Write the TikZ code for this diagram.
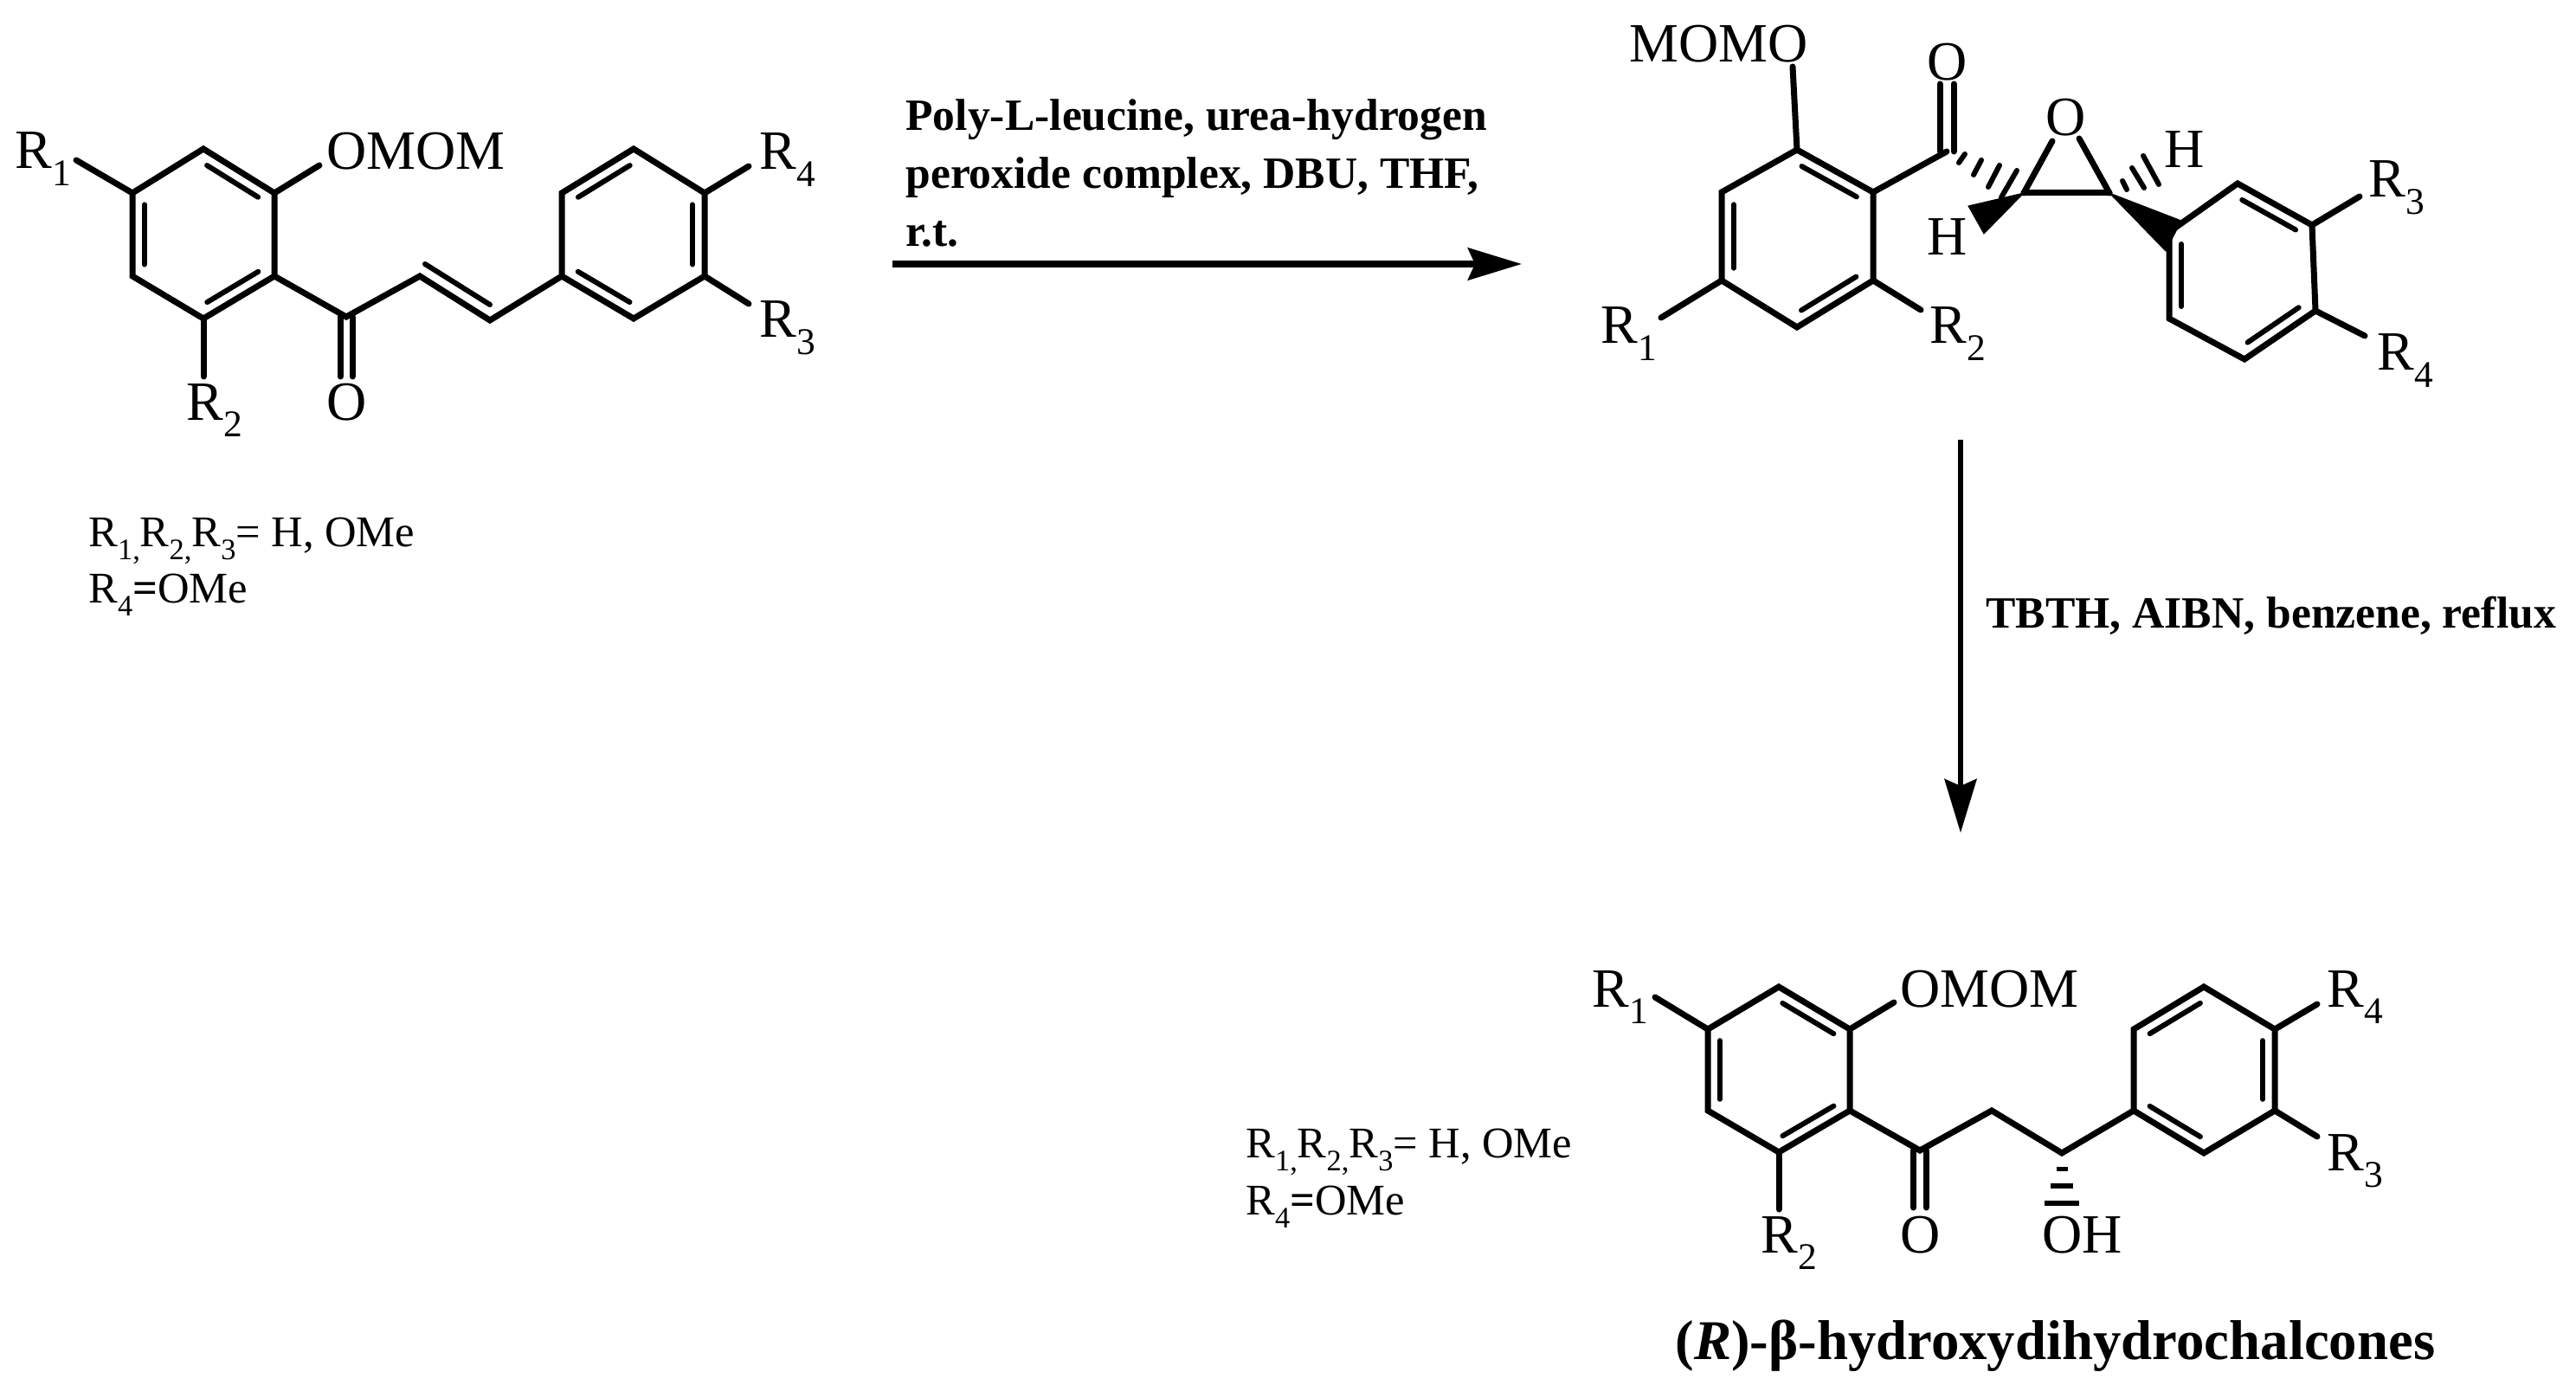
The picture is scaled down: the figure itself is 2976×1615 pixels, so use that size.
\documentclass[tikz,border=0pt]{standalone}
\usepackage{fontspec}
\setmainfont{Liberation Serif}
\usetikzlibrary{calc}
\usetikzlibrary{arrows.meta}

\tikzset{
  bond/.style={line width=3.5pt, line cap=round, line join=miter},
  innerb/.style={line width=3pt, line cap=round},
  hashb/.style={line width=3pt, line cap=round},
  wedgeb/.style={fill=black, draw=black, line width=.5pt, line join=miter},
  atomlab/.style={inner sep=0pt, anchor=base west, xshift=-1pt, font=\fontsize{32}{38}\selectfont},
  condlab/.style={inner sep=0pt, anchor=base west, xshift=-.5pt, font=\fontsize{25.3}{30}\selectfont},
  reagent/.style={inner sep=0pt, anchor=base west, font=\fontsize{25.8}{30}\selectfont\bfseries},
  rxnarrow/.style={-{Stealth[length=31pt, width=18.5pt, inset=4pt]}}
}
\newcommand{\subg}[1]{\raisebox{-.3em}{\scalebox{.68}{#1}}}
% second line of a double bond, on the right of a -> b
\newcommand{\innerbond}[2]{\draw[innerb] ($(#1)!.14!(#2)!7pt!-90:(#2)$) -- ($(#2)!.14!(#1)!7pt!90:(#1)$);}

\begin{document}
\begin{tikzpicture}[x=.5pt, y=-.5pt]
    \useasboundingbox (0,0) rectangle (2976,1615);

        % Chalcone: atoms
        \coordinate (a1) at (235,172);
        \coordinate (a2) at (317,223);
        \coordinate (a3) at (317,319);
        \coordinate (a4) at (235,368);
        \coordinate (a5) at (153,319);
        \coordinate (a6) at (153,223);
        \coordinate (aco) at (400,366);
        \coordinate (aox) at (400,435);
        \coordinate (aalk) at (485,319);
        \coordinate (abet) at (566,370);
        \coordinate (b1) at (649,319);
        \coordinate (b2) at (649,223);
        \coordinate (b3) at (732,172);
        \coordinate (b4) at (814,223);
        \coordinate (b5) at (814,319);
        \coordinate (b6) at (732,368);
        \coordinate (ar1) at (88,185);
        \coordinate (aom) at (369,191);
        \coordinate (ar2) at (235,435);
        \coordinate (ar4) at (865,192);
        \coordinate (ar3) at (865,351);
        \coordinate (ain1) at (491,305);
        \coordinate (ain2) at (566,352);
        % Chalcone: bonds
        \draw[bond] (a1) -- (a2) -- (a3) -- (a4) -- (a5) -- (a6) -- cycle;
        \draw[bond] (b1) -- (b2) -- (b3) -- (b4) -- (b5) -- (b6) -- cycle;
        \draw[bond] (a3) -- (aco) -- (aalk) -- (abet) -- (b1);
        \draw[bond] (a6) -- (ar1);
        \draw[bond] (a2) -- (aom);
        \draw[bond] (a4) -- (ar2);
        \draw[bond] (b4) -- (ar4);
        \draw[bond] (b5) -- (ar3);
        \draw[bond] ([xshift=-3.5pt]aco) -- ([xshift=-3.5pt]aox);
        \draw[bond] ([xshift=3.5pt]aco) -- ([xshift=3.5pt]aox);
        \draw[innerb] (ain1) -- (ain2);
        \innerbond{a1}{a2}
        \innerbond{a3}{a4}
        \innerbond{a5}{a6}
        \innerbond{b2}{b3}
        \innerbond{b4}{b5}
        \innerbond{b6}{b1}
        % Chalcone: labels
        \node[atomlab] (lr1) at (19,195) {R\subg{1}};
        \node[atomlab] (lom) at (379,196) {OMOM};
        \node[atomlab] (lr2) at (217,485) {R\subg{2}};
        \node[atomlab] (lox) at (379,486) {O};
        \node[atomlab] (lr4) at (879,196) {R\subg{4}};
        \node[atomlab] (lr3) at (879,390) {R\subg{3}};
        \node[condlab] (cnd1) at (103,631) {R\subg{1,}R\subg{2,}R\subg{3}= H, OMe};
        \node[condlab] (cnd2) at (103,696) {R\subg{4}\textbf{=}OMe};

        % First step
        \coordinate (s1a) at (1031,305);
        \coordinate (s1b) at (1758,305);
        \draw[rxnarrow, line width=3.7pt] (s1a) -- (s1b);
        \node[reagent] (rg1) at (1046,151) {Poly-L-leucine, urea-hydrogen};
        \node[reagent] (rg2) at (1046,218) {peroxide complex, DBU, THF,};
        \node[reagent] (rg3) at (1046,285) {r.t.};

        % Epoxide: atoms
        \coordinate (e1) at (2076,173);
        \coordinate (e2) at (2164,222);
        \coordinate (e3) at (2164,324);
        \coordinate (e4) at (2076,378);
        \coordinate (e5) at (1989,324);
        \coordinate (e6) at (1989,222);
        \coordinate (eco) at (2249,175);
        \coordinate (eox) at (2249,97);
        \coordinate (ec1) at (2338,223);
        \coordinate (ec2) at (2437,223);
        \coordinate (eo1) at (2371,163);
        \coordinate (eo2) at (2402,160);
        \coordinate (em) at (2071,77);
        \coordinate (er1) at (1919,367);
        \coordinate (er2) at (2219,358);
        \coordinate (f1) at (2506,268);
        \coordinate (f2) at (2585,212);
        \coordinate (f3) at (2671,260);
        \coordinate (f4) at (2675,359);
        \coordinate (f5) at (2593,415);
        \coordinate (f6) at (2506,368);
        \coordinate (er3) at (2726,227);
        \coordinate (er4) at (2732,388);
        % Epoxide: bonds
        \draw[bond] (e1) -- (e2) -- (e3) -- (e4) -- (e5) -- (e6) -- cycle;
        \draw[bond] (f1) -- (f2) -- (f3) -- (f4) -- (f5) -- (f6) -- cycle;
        \draw[bond] (e2) -- (eco);
        \draw[bond] ([xshift=-4pt]eco) -- ([xshift=-4pt]eox);
        \draw[bond] ([xshift=4pt]eco) -- ([xshift=4pt]eox);
        \draw[bond] (e1) -- (em);
        \draw[bond] (e5) -- (er1);
        \draw[bond] (e3) -- (er2);
        \draw[bond] (f3) -- (er3);
        \draw[bond] (f4) -- (er4);
        \draw[bond] (ec1) -- (ec2);
        \draw[bond] (ec1) -- (eo1);
        \draw[bond] (ec2) -- (eo2);
        \innerbond{e1}{e2}
        \innerbond{e3}{e4}
        \innerbond{e5}{e6}
        \innerbond{f2}{f3}
        \innerbond{f4}{f5}
        \innerbond{f6}{f1}
        % Epoxide: stereo marks
        \filldraw[wedgeb] (ec1) -- (2274,238) -- (2292,270) -- cycle;
        \filldraw[wedgeb] (ec2) -- (2520,255) -- (2502,290) -- cycle;
        \draw[hashb] (2263,188) -- (2270,178);
        \draw[hashb] (2280,202) -- (2289,185);
        \draw[hashb] (2297,216) -- (2310,191);
        \draw[hashb] (2312,228) -- (2330,197);
        \draw[hashb] (2452,209) -- (2457,219);
        \draw[hashb] (2463,194) -- (2477,217);
        \draw[hashb] (2476,180) -- (2494,213);
        % Epoxide: labels
        \node[atomlab] (lmo) at (1884,72) {MOMO};
        \node[atomlab] (lo1) at (2228,93) {O};
        \node[atomlab] (lo2) at (2365,157) {O};
        \node[atomlab] (lh1) at (2228,295) {H};
        \node[atomlab] (lh2) at (2502,194) {H};
        \node[atomlab] (le1) at (1851,397) {R\subg{1}};
        \node[atomlab] (le2) at (2231,397) {R\subg{2}};
        \node[atomlab] (le3) at (2738,228) {R\subg{3}};
        \node[atomlab] (le4) at (2748,428) {R\subg{4}};

        % Second step
        \coordinate (s2a) at (2265,508);
        \coordinate (s2b) at (2265,962);
        \draw[rxnarrow, line width=3pt] (s2a) -- (s2b);
        \node[reagent] (rg4) at (2294,725) {TBTH, AIBN, benzene, reflux};

        % Product: atoms
        \coordinate (p1) at (2055,1140);
        \coordinate (p2) at (2137,1189);
        \coordinate (p3) at (2137,1283);
        \coordinate (p4) at (2055,1331);
        \coordinate (p5) at (1973,1283);
        \coordinate (p6) at (1973,1189);
        \coordinate (pco) at (2218,1329);
        \coordinate (pox) at (2218,1395);
        \coordinate (pch) at (2301,1283);
        \coordinate (poh) at (2382,1332);
        \coordinate (q1) at (2465,1283);
        \coordinate (q2) at (2465,1189);
        \coordinate (q3) at (2546,1140);
        \coordinate (q4) at (2628,1189);
        \coordinate (q5) at (2628,1283);
        \coordinate (q6) at (2546,1332);
        \coordinate (pr1) at (1912,1152);
        \coordinate (pom) at (2188,1158);
        \coordinate (pr2) at (2055,1397);
        \coordinate (pr4) at (2677,1160);
        \coordinate (pr3) at (2677,1313);
        % Product: bonds
        \draw[bond] (p1) -- (p2) -- (p3) -- (p4) -- (p5) -- (p6) -- cycle;
        \draw[bond] (q1) -- (q2) -- (q3) -- (q4) -- (q5) -- (q6) -- cycle;
        \draw[bond] (p3) -- (pco) -- (pch) -- (poh) -- (q1);
        \draw[bond] (p6) -- (pr1);
        \draw[bond] (p2) -- (pom);
        \draw[bond] (p4) -- (pr2);
        \draw[bond] (q4) -- (pr4);
        \draw[bond] (q5) -- (pr3);
        \draw[bond] ([xshift=-3.6pt]pco) -- ([xshift=-3.6pt]pox);
        \draw[bond] ([xshift=3.6pt]pco) -- ([xshift=3.6pt]pox);
        \innerbond{p1}{p2}
        \innerbond{p3}{p4}
        \innerbond{p5}{p6}
        \innerbond{q2}{q3}
        \innerbond{q4}{q5}
        \innerbond{q6}{q1}
        % Product: hashed bond to the hydroxyl
        \fill (2375.5,1348) rectangle (2388.5,1353);
        \fill (2369,1367) rectangle (2395,1373);
        \fill (2362,1387) rectangle (2402,1393);
        % Product: labels
        \node[atomlab] (lp1) at (1841,1163) {R\subg{1}};
        \node[atomlab] (lpm) at (2197,1163) {OMOM};
        \node[atomlab] (lp4) at (2690,1163) {R\subg{4}};
        \node[atomlab] (lp3) at (2690,1352) {R\subg{3}};
        \node[atomlab] (lp2) at (2036,1447) {R\subg{2}};
        \node[atomlab] (lpo) at (2197,1447) {O};
        \node[atomlab] (lph) at (2361,1447) {OH};
        \node[condlab] (cnd3) at (1440,1337) {R\subg{1,}R\subg{2,}R\subg{3}= H, OMe};
        \node[condlab] (cnd4) at (1440,1403) {R\subg{4}\textbf{=}OMe};
        \node[reagent, font=\fontsize{32.4}{38}\selectfont\bfseries] (ptitle) at (1935,1570) {(\textit{R})-β-hydroxydihydrochalcones};

\end{tikzpicture}
\end{document}
